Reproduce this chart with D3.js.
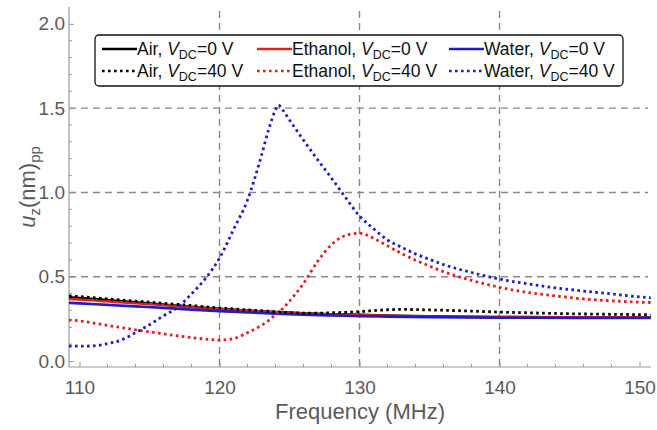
<!DOCTYPE html>
<html>
<head>
<meta charset="utf-8">
<script src="https://cdn.jsdelivr.net/npm/d3@7"></script>
<style>
  body { margin: 0; background: #fff; }
  svg text { font-family: "Liberation Sans", Arial, sans-serif; }
</style>
</head>
<body>
<div id="chart"></div>
<script>
// frequency grids (MHz)
const freqSolid = [109.25, 110, 112, 114, 116, 118, 120, 122, 124, 126, 128, 130, 132, 135, 140, 145, 150, 150.8];
const freqDotted = [109.25, 110, 111, 112, 113, 114, 115, 116, 117, 118, 119, 120, 121, 122, 123, 123.5, 124, 124.2, 124.6, 125,
    126, 127, 128, 129, 130, 131, 132, 133, 134, 135, 136, 138, 140, 142, 144, 146, 148, 150, 150.8];

// u_z (nm) peak-to-peak, VDC = 0 V
const airSolid     = [0.378, 0.374, 0.361, 0.348, 0.335, 0.322, 0.309, 0.299, 0.290, 0.283, 0.277, 0.274, 0.270, 0.265, 0.261, 0.259, 0.258, 0.258];
const ethanolSolid = [0.368, 0.365, 0.354, 0.343, 0.332, 0.320, 0.308, 0.298, 0.289, 0.282, 0.276, 0.272, 0.268, 0.264, 0.261, 0.259, 0.258, 0.257];
const waterSolid   = [0.345, 0.342, 0.333, 0.324, 0.315, 0.305, 0.296, 0.288, 0.281, 0.275, 0.270, 0.266, 0.263, 0.260, 0.257, 0.256, 0.255, 0.255];

// VDC = 40 V
const airDotted = [0.386, 0.382, 0.376, 0.369, 0.362, 0.355, 0.349, 0.342, 0.336, 0.329, 0.322, 0.315, 0.309, 0.303, 0.298, 0.295, 0.292, 0.291, 0.289, 0.287,
    0.284, 0.284, 0.286, 0.289, 0.293, 0.299, 0.304, 0.306, 0.305, 0.303, 0.301, 0.296, 0.290, 0.286, 0.282, 0.279, 0.277, 0.275, 0.274];
const ethanolDotted = [0.243, 0.238, 0.225, 0.211, 0.198, 0.185, 0.173, 0.161, 0.149, 0.139, 0.130, 0.124, 0.133, 0.168, 0.212, 0.240, 0.275, 0.288, 0.318, 0.355,
    0.460, 0.590, 0.690, 0.745, 0.758, 0.728, 0.683, 0.638, 0.598, 0.563, 0.530, 0.478, 0.437, 0.407, 0.386, 0.368, 0.357, 0.349, 0.347];
const waterDotted = [0.088, 0.088, 0.090, 0.103, 0.125, 0.168, 0.215, 0.268, 0.318, 0.398, 0.490, 0.610, 0.780, 0.955, 1.220, 1.370, 1.490, 1.518, 1.480, 1.430,
    1.310, 1.195, 1.085, 0.970, 0.860, 0.785, 0.718, 0.675, 0.635, 0.603, 0.572, 0.525, 0.486, 0.458, 0.434, 0.415, 0.398, 0.380, 0.375];

const xTicks = [110, 120, 130, 140, 150];
const yTicks = [0, 0.5, 1.0, 1.5, 2.0];
const xGrid = [120, 130, 140];
const yGrid = [0.5, 1.0, 1.5];

const series = [
    {name: "Air", v: "0", color: "#000000", dotted: false, f: freqSolid, u: airSolid},
    {name: "Ethanol", v: "0", color: "#e01e1e", dotted: false, f: freqSolid, u: ethanolSolid},
    {name: "Water", v: "0", color: "#1c1cc8", dotted: false, f: freqSolid, u: waterSolid},
    {name: "Air", v: "40", color: "#000000", dotted: true, f: freqDotted, u: airDotted},
    {name: "Ethanol", v: "40", color: "#e01e1e", dotted: true, f: freqDotted, u: ethanolDotted},
    {name: "Water", v: "40", color: "#1c1cc8", dotted: true, f: freqDotted, u: waterDotted}
];

const W = 657, H = 430;
const plot = {left: 69, right: 651, top: 7, bottom: 367};

const svg = d3.select("#chart").append("svg")
    .attr("width", W).attr("height", H);

const x = d3.scaleLinear().domain([109.25, 150.82]).range([plot.left, plot.right]);
const y = d3.scaleLinear().domain([-0.0356, 2.1]).range([plot.bottom, plot.top]);

// grid
svg.append("g").selectAll("line").data(xGrid).join("line")
    .attr("x1", d => x(d)).attr("x2", d => x(d))
    .attr("y1", plot.top + 4).attr("y2", plot.bottom)
    .attr("stroke", "#888").attr("stroke-width", 1.4).attr("stroke-dasharray", "7,5");
svg.append("g").selectAll("line").data(yGrid).join("line")
    .attr("x1", plot.left).attr("x2", plot.right - 3)
    .attr("y1", d => y(d)).attr("y2", d => y(d))
    .attr("stroke", "#888").attr("stroke-width", 1.4).attr("stroke-dasharray", "7,5");

// axes
const axisColor = "#9a9a9a";
const gx = svg.append("g").attr("transform", `translate(0,${plot.bottom})`)
    .call(d3.axisBottom(x).tickValues(xTicks).tickSize(-5).tickPadding(14).tickFormat(d3.format("d")));
gx.append("g").selectAll("line").data(d3.range(112, 151, 2).filter(d => d % 10 !== 0)).join("line")
    .attr("x1", d => x(d)).attr("x2", d => x(d)).attr("y1", 0).attr("y2", -3)
    .attr("stroke", axisColor);

const gy = svg.append("g").attr("transform", `translate(${plot.left},0)`)
    .call(d3.axisLeft(y).tickValues(yTicks).tickSize(-5).tickPadding(4).tickFormat(d3.format(".1f")));
gy.append("g").selectAll("line").data(d3.range(0.1, 2.1, 0.1).filter(d => Math.abs(d * 2 - Math.round(d * 2)) > 1e-6)).join("line")
    .attr("x1", 0).attr("x2", 3).attr("y1", d => y(d)).attr("y2", d => y(d))
    .attr("stroke", axisColor);

[gx, gy].forEach(g => {
    g.select(".domain").attr("stroke", axisColor).attr("stroke-width", 1.2);
    g.selectAll(".tick line").attr("stroke", axisColor);
    g.selectAll(".tick text").attr("fill", "#5a5a5a").style("font-size", "19px");
});
gy.select(".domain").attr("d", `M0,${plot.top}V${plot.bottom}`);
gx.select(".domain").attr("d", `M${plot.left},0H${plot.right}`);

// curves
const line = d3.line()
    .x(d => x(d[0])).y(d => y(d[1]))
    .curve(d3.curveMonotoneX);

svg.append("g").selectAll("path").data(series).join("path")
    .attr("d", s => line(s.f.map((f, i) => [f, s.u[i]])))
    .attr("fill", "none")
    .attr("stroke", s => s.color)
    .attr("stroke-width", s => s.dotted ? 2.8 : 2.6)
    .attr("stroke-dasharray", s => s.dotted ? "2.6,3.4" : null);

// axis titles
svg.append("text")
    .attr("x", (plot.left + plot.right) / 2).attr("y", 419)
    .attr("text-anchor", "middle").attr("fill", "#5a5a5a")
    .style("font-size", "22px")
    .text("Frequency (MHz)");

const yt = svg.append("text")
    .attr("transform", `translate(35,${(plot.top + plot.bottom) / 2}) rotate(-90)`)
    .attr("text-anchor", "middle").attr("fill", "#5a5a5a")
    .style("font-size", "22px");
yt.append("tspan").style("font-style", "italic").text("u");
yt.append("tspan").attr("dy", 5).style("font-size", "15px").text("z");
yt.append("tspan").attr("dy", -5).text("(nm)");
yt.append("tspan").attr("dy", 5).style("font-size", "15px").text("pp");

// legend
const legend = svg.append("g");
legend.append("rect")
    .attr("x", 95).attr("y", 35).attr("width", 528).attr("height", 51).attr("rx", 4)
    .attr("fill", "#fff").attr("stroke", "#111").attr("stroke-width", 1.3);

const colX = [102, 257, 449];
const rowY = [49, 71];
series.forEach((s, i) => {
    const cx = colX[i % 3], cy = rowY[s.dotted ? 1 : 0];
    legend.append("line")
        .attr("x1", cx).attr("x2", cx + 35).attr("y1", cy).attr("y2", cy)
        .attr("stroke", s.color).attr("stroke-width", 2.6)
        .attr("stroke-dasharray", s.dotted ? "2.6,3.4" : null);
    const t = legend.append("text")
        .attr("x", cx + 35).attr("y", cy + 6)
        .attr("fill", "#111").style("font-size", "17.5px");
    t.append("tspan").text(`${s.name}, `);
    t.append("tspan").style("font-style", "italic").text("V");
    t.append("tspan").attr("dy", 4).style("font-size", "12.5px").text("DC");
    t.append("tspan").attr("dy", -4).text(`=${s.v} V`);
});
</script>
</body>
</html>
